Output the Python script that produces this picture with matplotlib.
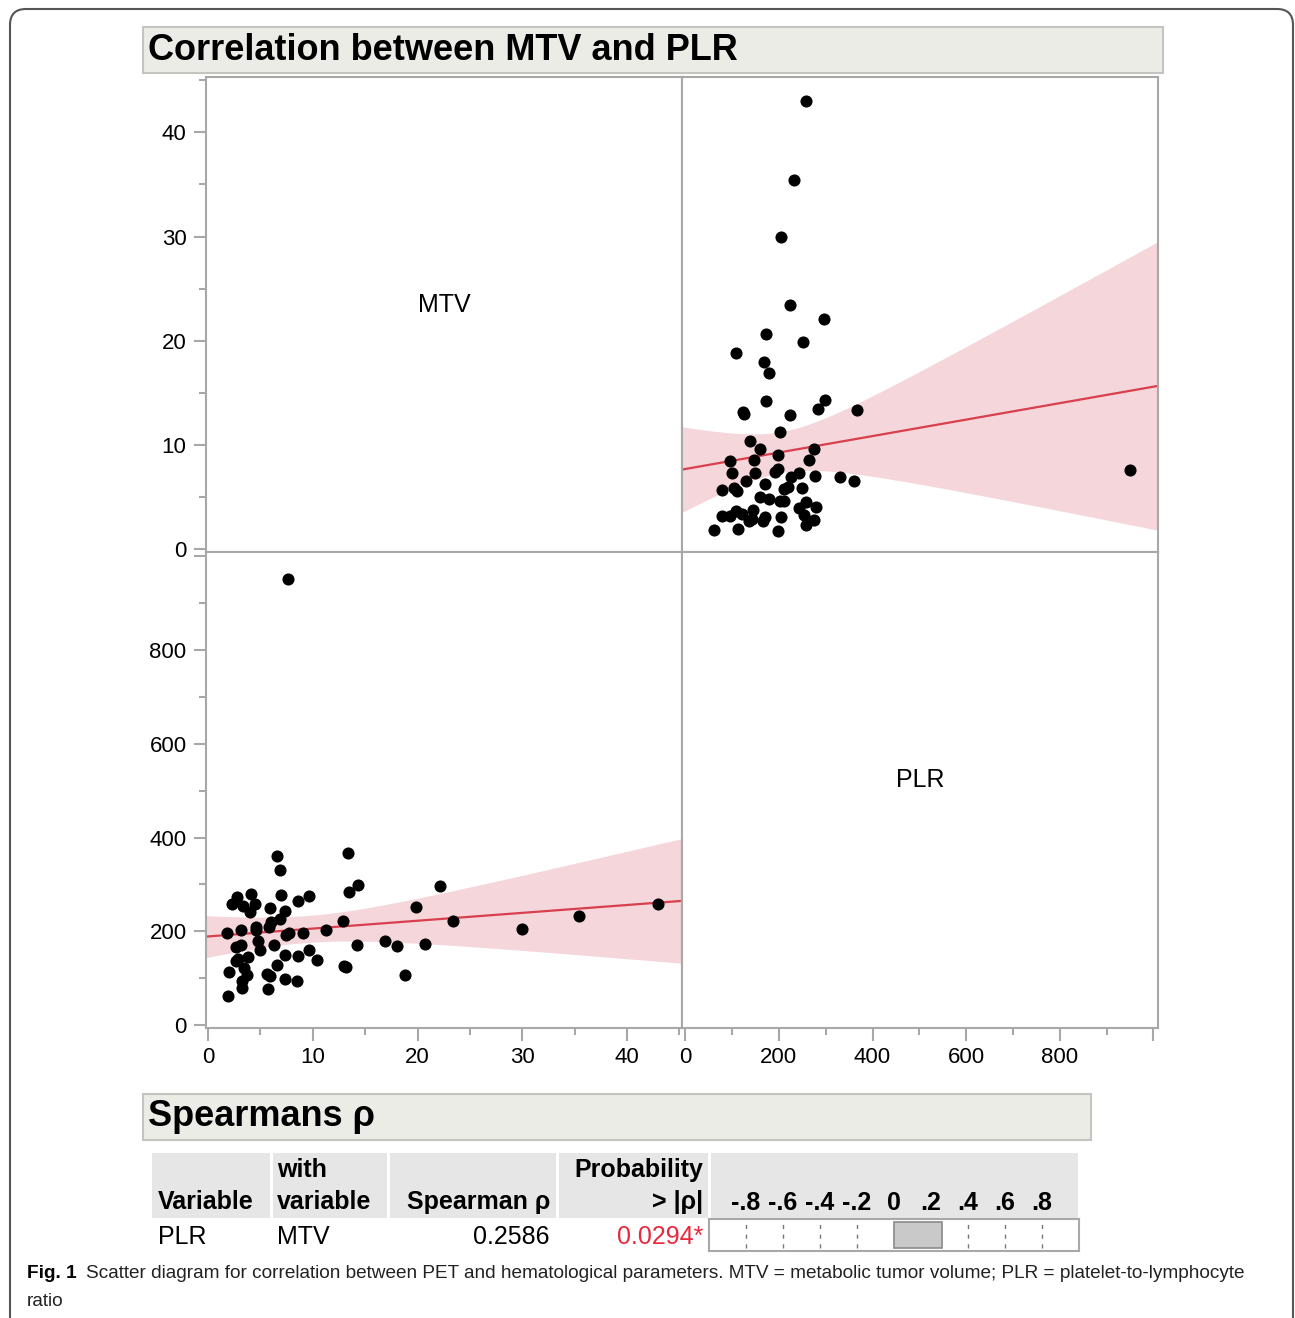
import matplotlib
matplotlib.use("Agg")
import matplotlib.pyplot as plt
import matplotlib.transforms as mtransforms
from matplotlib import font_manager
from matplotlib.patches import Rectangle, FancyBboxPatch
from matplotlib.ticker import MultipleLocator, FixedLocator
import numpy as np

# ---- data ----
mtv = [43.0, 35.4, 30.0, 23.4, 22.1, 20.7, 19.9, 18.8, 18.0, 16.9,
       14.2, 14.3, 13.5, 13.4, 13.2, 13.0, 12.9, 11.3, 10.4, 9.6,
       9.1, 9.6, 8.5, 8.6, 8.6, 7.3, 7.3, 7.7, 7.4, 7.3,
       7.6, 6.9, 6.6, 7.0, 6.9, 6.6, 5.7, 5.9, 5.6, 6.3,
       5.8, 6.0, 5.9, 5.0, 4.8, 4.6, 4.6, 4.5, 4.1, 4.0,
       3.7, 3.8, 3.2, 3.2, 3.4, 2.7, 2.9, 2.7, 3.1, 3.1,
       3.3, 2.8, 2.3, 1.9, 2.0, 1.8]
plr = [258, 233, 205, 223, 296, 173, 252, 108, 168, 179,
       172, 298, 284, 367, 123, 126, 223, 202, 138, 160,
       197, 275, 95, 147, 265, 99, 149, 197, 192, 243,
       951, 330, 360, 277, 226, 129, 78, 105, 110, 170,
       210, 220, 249, 160, 179, 203, 210, 258, 279, 242,
       108, 145, 79, 95, 121, 137, 142, 167, 171, 204,
       254, 274, 258, 62, 113, 197]

variables = ["MTV", "PLR"]
mtv_range = (-0.2, 45.3)
plr_range = (-6, 1010)

rho = 0.2586
p_value = 0.0294
rho_ticks = [-0.8, -0.6, -0.4, -0.2, 0, 0.2, 0.4, 0.6, 0.8]
rho_tick_labels = ["-.8", "-.6", "-.4", "-.2", "0", ".2", ".4", ".6", ".8"]

W, H = 1295, 1318
names = {f.name for f in font_manager.fontManager.ttflist}
SANS = "Liberation Sans" if "Liberation Sans" in names else "DejaVu Sans"
NARROW = "Liberation Sans Narrow" if "Liberation Sans Narrow" in names else SANS
plt.rcParams["font.family"] = [SANS, "DejaVu Sans"]

GRAY = "#A8A8A8"
RED = "#D8404D"
BAND = "#F5D6DB"


def fit_band(x, y, xs, t=1.997):
    x = np.asarray(x, float)
    y = np.asarray(y, float)
    b1, b0 = np.polyfit(x, y, 1)
    n = len(x)
    s = np.sqrt(np.sum((y - (b0 + b1 * x)) ** 2) / (n - 2))
    sxx = np.sum((x - x.mean()) ** 2)
    se = s * np.sqrt(1 / n + (xs - x.mean()) ** 2 / sxx)
    yh = b0 + b1 * xs
    return yh, yh - t * se, yh + t * se


def px_rect(x0, y0, x1, y1):
    return [x0 / W, 1 - y1 / H, (x1 - x0) / W, (y1 - y0) / H]


fig = plt.figure(figsize=(W / 100, H / 100), dpi=100)

# overlay in pixel coordinates for boxes and text
ov = fig.add_axes([0, 0, 1, 1], zorder=0)
ov.set_xlim(0, W)
ov.set_ylim(H, 0)
ov.axis("off")

ov.add_patch(FancyBboxPatch((10, 9), 1283, 1400, boxstyle="round,pad=0,rounding_size=16",
                            fc="white", ec="#555555", lw=1.5))
ov.add_patch(Rectangle((143, 27), 1020, 46, fc="#ECECE7", ec="#C4C4C0", lw=1.5))
ov.text(148, 51, "Correlation between MTV and PLR", fontsize=26, fontweight="bold",
        va="center", ha="left")

# ---- scatterplot matrix ----
cells = {
    (0, 0): px_rect(206, 77, 682.5, 551.5),
    (0, 1): px_rect(682.5, 77, 1158, 551.5),
    (1, 0): px_rect(206, 551.5, 682.5, 1028),
    (1, 1): px_rect(682.5, 551.5, 1158, 1028),
}
ranges = [mtv_range, plr_range]
data = [mtv, plr]
for (r, c), rect in cells.items():
    ax = fig.add_axes(rect, zorder=2)
    ax.set_xlim(ranges[c])
    ax.set_ylim(ranges[r])
    for sp in ax.spines.values():
        sp.set_color(GRAY)
        sp.set_linewidth(1.5)
    ax.tick_params(which="both", direction="out", color=GRAY, width=1.5, labelsize=16)
    ax.tick_params(which="major", length=9, pad=5)
    ax.tick_params(which="minor", length=5)
    for axis, idx in ((ax.xaxis, c), (ax.yaxis, r)):
        if idx == 0:
            axis.set_major_locator(MultipleLocator(10))
            axis.set_minor_locator(MultipleLocator(5))
        else:
            axis.set_major_locator(FixedLocator([0, 200, 400, 600, 800, 1000]))
            axis.set_minor_locator(MultipleLocator(100))
            axis.set_major_formatter(lambda v, pos: "" if v >= 1000 else f"{v:.0f}")
    if r == 0:
        ax.tick_params(axis="x", which="both", bottom=False, labelbottom=False)
    if c == 1:
        ax.tick_params(axis="y", which="both", left=False, labelleft=False)
    if r == c:
        ax.text(0.5, 0.52, variables[r], transform=ax.transAxes, fontsize=18,
                ha="center", va="center")
        continue
    xs = np.linspace(ranges[c][0], ranges[c][1], 200)
    yh, lo, hi = fit_band(data[c], data[r], xs)
    ax.fill_between(xs, lo, hi, color=BAND, lw=0, zorder=1)
    ax.plot(xs, yh, color=RED, lw=1.6, zorder=2)
    ax.scatter(data[c], data[r], s=76, color="black", lw=0, zorder=3, clip_on=False)

# ---- Spearman table ----
ov.add_patch(Rectangle((143, 1094), 948, 46, fc="#ECECE7", ec="#C4C4C0", lw=1.5))
ov.text(148, 1117, "Spearmans ρ", fontsize=26, fontweight="bold", va="center", ha="left")

cols = [(152, 270), (273, 387), (390, 556), (559, 708), (711, 1078)]
for x0, x1 in cols:
    ov.add_patch(Rectangle((x0, 1153), x1 - x0, 65, fc="#E6E6E6", ec="none"))

hdr = dict(fontsize=18, fontweight="bold", va="center")
row = dict(fontsize=18, va="center")
ov.text(158, 1202, "Variable", ha="left", **hdr)
ov.text(277, 1170, "with", ha="left", **hdr)
ov.text(277, 1202, "variable", ha="left", **hdr)
ov.text(550, 1202, "Spearman ρ", ha="right", **hdr)
ov.text(703, 1170, "Probability", ha="right", **hdr)
ov.text(703, 1202, "> |ρ|", ha="right", **hdr)

ov.text(158, 1237, variables[1], ha="left", **row)
ov.text(277, 1237, variables[0], ha="left", **row)
ov.text(550, 1237, f"{rho:.4f}", ha="right", **row)
ov.text(703, 1237, f"{p_value:.4f}*", ha="right", color="#E8283C", **row)

axb = fig.add_axes(px_rect(709, 1219, 1079, 1251), zorder=2)
axb.set_xlim(-1, 1)
axb.set_ylim(0, 1)
axb.set_xticks([])
axb.set_yticks([])
for sp in axb.spines.values():
    sp.set_color(GRAY)
    sp.set_linewidth(1.5)
axb.vlines([v for v in rho_ticks if v != 0], 0.08, 0.92, color="#777777", lw=1,
           linestyles=(0, (3, 4)), zorder=1)
axb.barh(0.5, rho, left=0, height=0.82, color="#C9C9C9", edgecolor="#8A8A8A", lw=1.2,
         zorder=2)
lab_tr = mtransforms.blended_transform_factory(axb.transData, ov.transData)
for v, lab in zip(rho_ticks, rho_tick_labels):
    ov.text(v, 1203, lab, transform=lab_tr, ha="center", **hdr)

# ---- caption ----
cap = ov.text(27, 1274, "Fig. 1", fontsize=13.7, fontweight="bold", family=NARROW,
              va="center", ha="left")
ov.annotate("Scatter diagram for correlation between PET and hematological parameters. "
            "MTV = metabolic tumor volume; PLR = platelet-to-lymphocyte",
            xy=(1, 0.5), xycoords=cap, xytext=(7, 0), textcoords="offset points",
            fontsize=13.7, family=NARROW, va="center", ha="left", color="#222222")
ov.text(27, 1301, "ratio", fontsize=13.7, family=NARROW, va="center", ha="left",
        color="#222222")

fig.savefig("out.png", dpi=100)
